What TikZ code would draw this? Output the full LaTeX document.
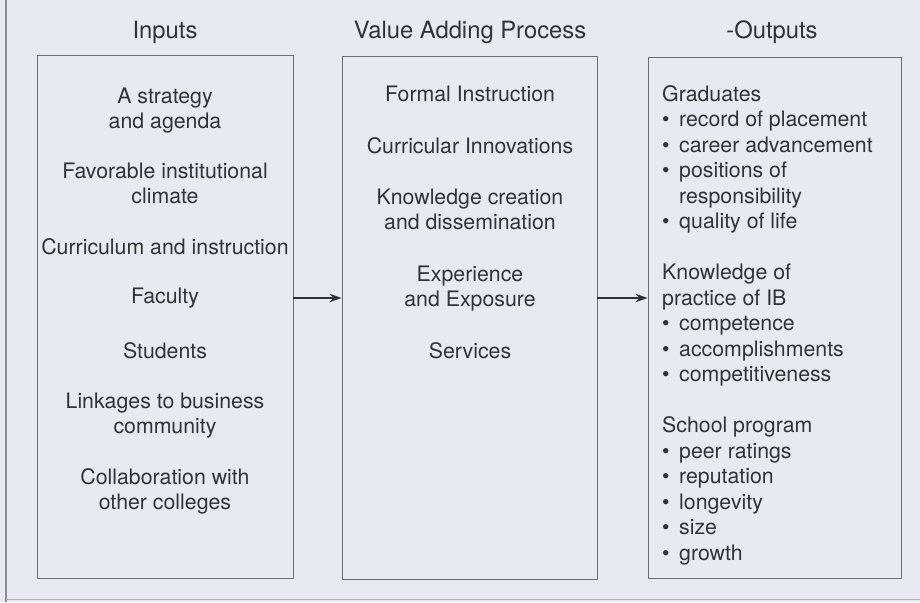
\documentclass[tikz,border=0pt]{standalone}
\usepackage{fontspec}
\setmainfont{TeX Gyre Heros}
\usetikzlibrary{arrows.meta}
\definecolor{paper}{HTML}{E8E9F1}
\definecolor{ink}{HTML}{333335}
\definecolor{frame}{HTML}{6E6F75}
\definecolor{rule}{HTML}{8C8D94}
% bullet and hanging indent for the output lists
\newcommand\outbullet{\makebox[17pt][l]{\textbullet}}
\newcommand\outindent{\hspace*{17pt}}
\begin{document}
% multi-line nodes are placed by the baseline of their last line (anchor=base)
\begin{tikzpicture}[x=1pt,y=-1pt,
  every node/.style={inner sep=0pt, text=ink},
  heading/.style={font=\fontsize{23.8}{28}\selectfont, anchor=base},
  item/.style={font=\fontsize{21.3}{25}\selectfont, align=center, anchor=base},
  list/.style={font=\fontsize{21.3}{25.5}\selectfont, align=left, anchor=base west},
  panel/.style={draw=frame, line width=0.9pt},
  flow/.style={draw=ink, line width=1.2pt, -{Stealth[length=12pt,width=8.5pt]}}]
\fill[paper] (0,0) rectangle (920,602);
\useasboundingbox (0,0) rectangle (920,602);

% page rules
\draw[rule, line width=1.4pt] (6,0) -- (6,602);
\draw[rule!70, line width=1pt] (6,599) -- (920,599);

% the three panels
\node[panel, minimum width=256pt, minimum height=523pt] (inbox) at (165,316.5) {};
\node[panel, minimum width=255pt, minimum height=523pt] (procbox) at (469.5,317.5) {};
\node[panel, minimum width=253pt, minimum height=521pt] (outbox) at (774.5,317.5) {};

% headings
\node[heading] (inhead) at (165,39) {Inputs};
\node[heading] (prochead) at (470,39) {Value Adding Process};
\node[heading] (outhead) at (772,39) {-Outputs};

% inputs
\node[item] (in1) at (165,128) {A strategy\\and agenda};
\node[item] (in2) at (165,203) {Favorable institutional\\climate};
\node[item] (in3) at (165,254) {Curriculum and instruction};
\node[item] (in4) at (165,303) {Faculty};
\node[item] (in5) at (165,358) {Students};
\node[item] (in6) at (165,433) {Linkages to business\\community};
\node[item] (in7) at (165,509) {Collaboration with\\other colleges};

% value adding process
\node[item] (pr1) at (470,101) {Formal Instruction};
\node[item] (pr2) at (470,153) {Curricular Innovations};
\node[item] (pr3) at (470,229) {Knowledge creation\\and dissemination};
\node[item] (pr4) at (470,306) {Experience\\and Exposure};
\node[item] (pr5) at (470,358) {Services};

% outputs
\node[list] (out1) at (662,228.5) {Graduates\\
  \outbullet record of placement\\
  \outbullet career advancement\\
  \outbullet positions of\\
  \outindent responsibility\\
  \outbullet quality of life};
\node[list] (out2) at (662,381.5) {Knowledge of\\
  practice of IB\\
  \outbullet competence\\
  \outbullet accomplishments\\
  \outbullet competitiveness};
\node[list] (out3) at (662,560) {School program\\
  \outbullet peer ratings\\
  \outbullet reputation\\
  \outbullet longevity\\
  \outbullet size\\
  \outbullet growth};

% flow between panels
\coordinate (flowrow) at (0,298);
\draw[flow] (inbox.east |- flowrow) -- (procbox.west |- flowrow);
\draw[flow] (procbox.east |- flowrow) -- (outbox.west |- flowrow);
\end{tikzpicture}
\end{document}
